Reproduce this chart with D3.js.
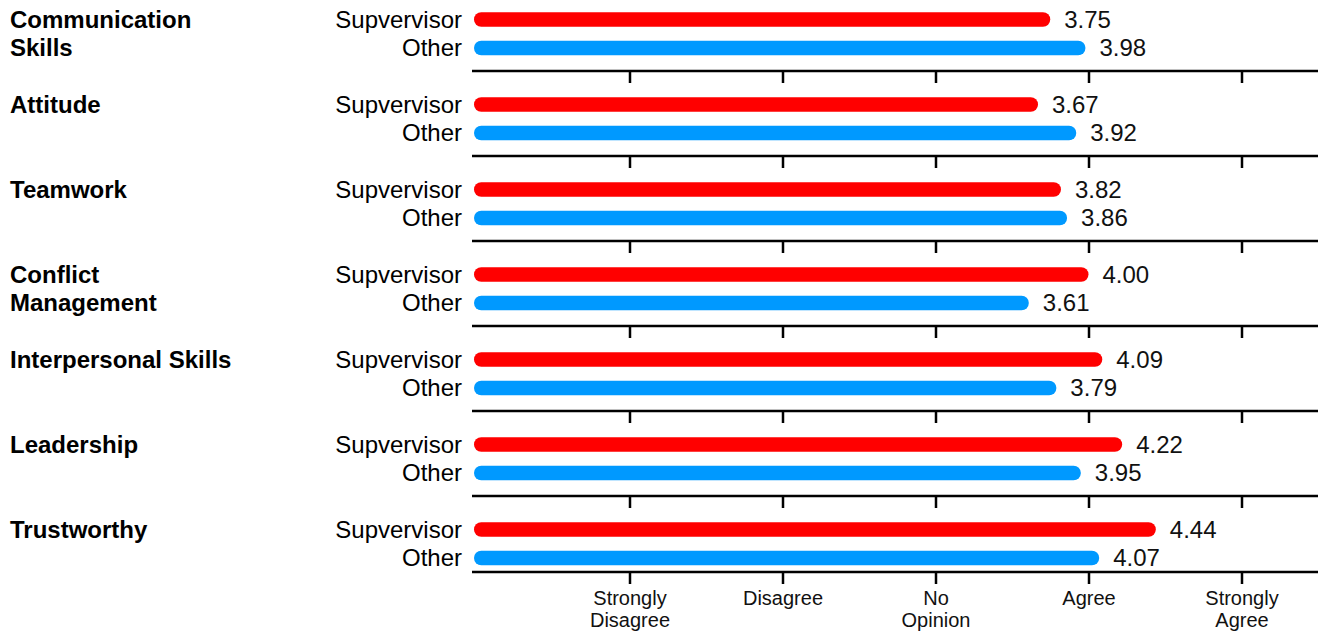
<!DOCTYPE html>
<html>
<head>
<meta charset="utf-8">
<script src="https://cdn.jsdelivr.net/npm/d3@7"></script>
<style>
  html, body { margin: 0; padding: 0; background: #fff; }
  svg { display: block; font-family: "Liberation Sans", Arial, sans-serif; }
</style>
</head>
<body>
<svg id="chart" width="1318" height="635"></svg>
<script>
// Survey ratings per competency, by rater group
const categories = [
  "Communication\nSkills",
  "Attitude",
  "Teamwork",
  "Conflict\nManagement",
  "Interpersonal Skills",
  "Leadership",
  "Trustworthy"
];
const seriesNames = ["Supvervisor", "Other"];
const supervisorValues = [3.75, 3.67, 3.82, 4.00, 4.09, 4.22, 4.44];
const otherValues      = [3.98, 3.92, 3.86, 3.61, 3.79, 3.95, 4.07];
const tickValues = [1, 2, 3, 4, 5];
const tickLabels = ["Strongly\nDisagree", "Disagree", "No\nOpinion", "Agree", "Strongly\nAgree"];
const seriesColors = ["#ff0000", "#0099ff"];

const rows = categories.map((c, i) => ({
  category: c,
  values: [
    { series: seriesNames[0], value: supervisorValues[i] },
    { series: seriesNames[1], value: otherValues[i] }
  ]
}));

const svg = d3.select("#chart");

const x = d3.scaleLinear().domain([0, 5]).range([476.5, 1241.5]);
const group = d3.scaleBand().domain(categories).range([0, 595]).paddingInner(0).paddingOuter(0);
const sub = d3.scalePoint().domain(seriesNames).range([19.5, 48]);
const color = d3.scaleOrdinal().domain(seriesNames).range(seriesColors);

const barH = 14.5;
const lineX0 = 472, lineX1 = 1318;
const axisY = 572;
const sepOffset = 71;

// Category groups
const g = svg.selectAll("g.group")
  .data(rows)
  .join("g")
  .attr("class", "group")
  .attr("transform", d => `translate(0,${group(d.category)})`);

// Category names (bold, left)
g.append("text")
  .attr("x", 10)
  .attr("font-size", 24)
  .attr("font-weight", "bold")
  .attr("fill", "#000")
  .selectAll("tspan")
  .data(d => d.category.split("\n").map((t, i) => ({ t, y: sub(seriesNames[i]) })))
  .join("tspan")
  .attr("x", 10)
  .attr("y", d => d.y)
  .attr("dy", "0.35em")
  .text(d => d.t);

// Series names (right-aligned before the bars)
g.selectAll("text.series")
  .data(d => d.values)
  .join("text")
  .attr("class", "series")
  .attr("x", 462)
  .attr("y", d => sub(d.series))
  .attr("dy", "0.35em")
  .attr("text-anchor", "end")
  .attr("font-size", 24)
  .attr("fill", "#000")
  .text(d => d.series);

// Rounded bars
g.selectAll("rect.bar")
  .data(d => d.values)
  .join("rect")
  .attr("class", "bar")
  .attr("x", x(0) - 2.5)
  .attr("y", d => sub(d.series) - barH / 2)
  .attr("width", d => x(d.value) - x(0) + 2.5)
  .attr("height", barH)
  .attr("rx", barH / 2)
  .attr("ry", barH / 2)
  .attr("fill", d => color(d.series));

// Value labels
g.selectAll("text.value")
  .data(d => d.values)
  .join("text")
  .attr("class", "value")
  .attr("x", d => x(d.value) + 14)
  .attr("y", d => sub(d.series))
  .attr("dy", "0.35em")
  .attr("font-size", 24)
  .attr("fill", "#111")
  .text(d => d3.format(".2f")(d.value));

// Separator axes under every group except the last
const sepAxis = d3.axisBottom(x).tickValues(tickValues).tickSize(12).tickSizeOuter(0).tickFormat("");
rows.slice(0, -1).forEach(r => {
  const yy = group(r.category) + sepOffset;
  const a = svg.append("g").attr("transform", `translate(0,${yy})`).call(sepAxis);
  a.select(".domain").remove();
  a.selectAll(".tick line").attr("stroke", "#000").attr("stroke-width", 2.5);
  a.append("line").attr("x1", lineX0).attr("x2", lineX1).attr("y1", 0).attr("y2", 0)
    .attr("stroke", "#000").attr("stroke-width", 2.5);
});

// Bottom axis with agreement labels
const bottomAxis = d3.axisBottom(x).tickValues(tickValues).tickSize(12).tickSizeOuter(0)
  .tickFormat((d, i) => tickLabels[i]);
const ax = svg.append("g").attr("transform", `translate(0,${axisY})`).call(bottomAxis);
ax.select(".domain").remove();
ax.selectAll(".tick line").attr("stroke", "#000").attr("stroke-width", 2.5);
ax.append("line").attr("x1", lineX0).attr("x2", lineX1).attr("y1", 0).attr("y2", 0)
  .attr("stroke", "#000").attr("stroke-width", 2.5);
ax.selectAll(".tick text")
  .attr("font-family", "Liberation Sans, Arial, sans-serif")
  .attr("font-size", 20)
  .attr("fill", "#111")
  .attr("y", 0)
  .attr("dy", null)
  .each(function(d, i) {
    const t = d3.select(this);
    const lines = tickLabels[i].split("\n");
    t.text(null);
    lines.forEach((ln, k) => {
      t.append("tspan").attr("x", 0).attr("y", 33 + k * 21.5).text(ln);
    });
  });
</script>
</body>
</html>
